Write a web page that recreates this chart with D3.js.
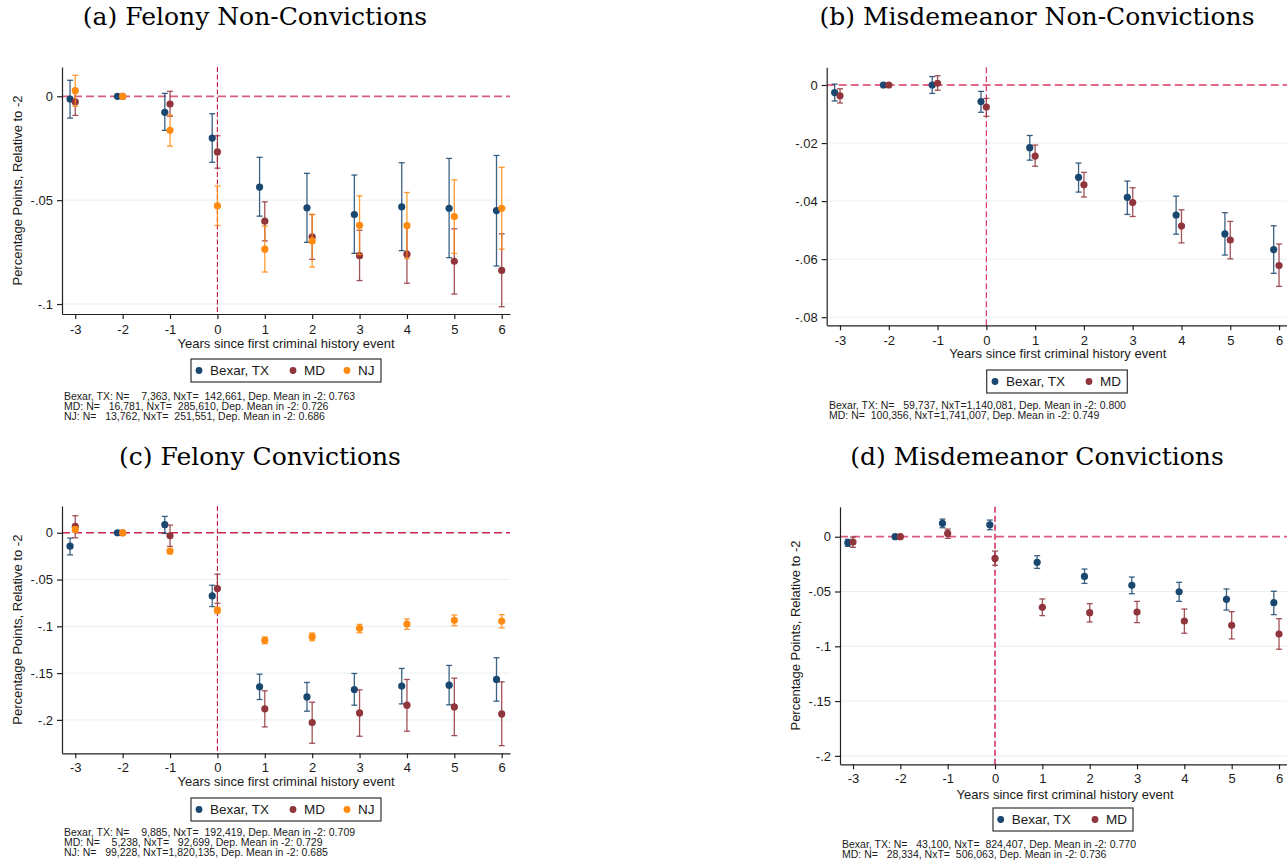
<!DOCTYPE html>
<html>
<head>
<meta charset="utf-8">
<script src="https://cdn.jsdelivr.net/npm/d3@7"></script>
<style>
  body { margin: 0; background: #fff; }
  svg text { font-family: "Liberation Sans", Arial, sans-serif; fill: #1a1a1a; }
  svg text.panel-title { font-family: "DejaVu Serif", "Liberation Serif", serif; fill: #000; }
</style>
</head>
<body>
<svg id="chart" width="1287" height="866"></svg>
<script>
// years relative to first criminal history event
var years = [-3, -2, -1, 0, 1, 2, 3, 4, 5, 6];

// (a) Felony non-convictions
var aBexarEst = [-0.0013, 0, -0.0077, -0.0201, -0.0437, -0.0537, -0.0569, -0.0532, -0.0539, -0.0550];
var aBexarLo  = [-0.0105, 0, -0.0164, -0.0318, -0.0577, -0.0703, -0.0756, -0.0743, -0.0777, -0.0817];
var aBexarHi  = [ 0.0077, 0,  0.0014, -0.0084, -0.0294, -0.0371, -0.0379, -0.0320, -0.0299, -0.0285];
var aMdEst    = [-0.0027, 0, -0.0037, -0.0268, -0.0601, -0.0677, -0.0767, -0.0760, -0.0794, -0.0838];
var aMdLo     = [-0.0092, 0, -0.0096, -0.0346, -0.0696, -0.0785, -0.0887, -0.0900, -0.0952, -0.1013];
var aMdHi     = [ 0.0035, 0,  0.0024, -0.0190, -0.0508, -0.0569, -0.0645, -0.0616, -0.0638, -0.0662];
var aNjEst    = [ 0.0027, 0, -0.0164, -0.0527, -0.0736, -0.0696, -0.0621, -0.0622, -0.0579, -0.0539];
var aNjLo     = [-0.0048, 0, -0.0240, -0.0622, -0.0846, -0.0822, -0.0762, -0.0781, -0.0756, -0.0736];
var aNjHi     = [ 0.0101, 0, -0.0090, -0.0432, -0.0625, -0.0569, -0.0479, -0.0463, -0.0402, -0.0342];
var aYTicks = [0, -0.05, -0.1];
var aYLabels = ["0", "-.05", "-.1"];
var aNotes = [
  "Bexar, TX: N=    7,363, NxT=  142,661, Dep. Mean in -2: 0.763",
  "MD: N=   16,781, NxT=  285,610, Dep. Mean in -2: 0.726",
  "NJ: N=   13,762, NxT=  251,551, Dep. Mean in -2: 0.686"
];

// (b) Misdemeanor non-convictions
var bBexarEst = [-0.0026, 0,  0.0000, -0.0057, -0.0216, -0.0318, -0.0387, -0.0448, -0.0513, -0.0567];
var bBexarLo  = [-0.0055, 0, -0.0029, -0.0094, -0.0259, -0.0369, -0.0446, -0.0514, -0.0586, -0.0649];
var bBexarHi  = [ 0.0003, 0,  0.0029, -0.0022, -0.0174, -0.0269, -0.0331, -0.0383, -0.0440, -0.0485];
var bMdEst    = [-0.0037, 0,  0.0006, -0.0076, -0.0245, -0.0344, -0.0405, -0.0486, -0.0534, -0.0622];
var bMdLo     = [-0.0062, 0, -0.0018, -0.0108, -0.0280, -0.0386, -0.0453, -0.0544, -0.0599, -0.0694];
var bMdHi     = [-0.0013, 0,  0.0032, -0.0046, -0.0207, -0.0301, -0.0354, -0.0430, -0.0470, -0.0548];
var bYTicks = [0, -0.02, -0.04, -0.06, -0.08];
var bYLabels = ["0", "-.02", "-.04", "-.06", "-.08"];
var bNotes = [
  "Bexar, TX: N=   59,737, NxT=1,140,081, Dep. Mean in -2: 0.800",
  "MD: N=  100,356, NxT=1,741,007, Dep. Mean in -2: 0.749"
];

// (c) Felony convictions
var cBexarEst = [-0.0143, 0,  0.0086, -0.0675, -0.1646, -0.1754, -0.1675, -0.1639, -0.1629, -0.1568];
var cBexarLo  = [-0.0236, 0, -0.0007, -0.0789, -0.1782, -0.1907, -0.1843, -0.1829, -0.1839, -0.1800];
var cBexarHi  = [-0.0057, 0,  0.0175, -0.0561, -0.1511, -0.1600, -0.1504, -0.1450, -0.1418, -0.1336];
var cMdEst    = [ 0.0068, 0, -0.0032, -0.0596, -0.1882, -0.2029, -0.1925, -0.1843, -0.1861, -0.1936];
var cMdLo     = [-0.0054, 0, -0.0146, -0.0754, -0.2075, -0.2250, -0.2175, -0.2121, -0.2168, -0.2275];
var cMdHi     = [ 0.0182, 0,  0.0082, -0.0443, -0.1689, -0.1811, -0.1679, -0.1568, -0.1554, -0.1593];
var cNjEst    = [ 0.0036, 0, -0.0196, -0.0829, -0.1150, -0.1111, -0.1021, -0.0975, -0.0936, -0.0943];
var cNjLo     = [ 0.0007, 0, -0.0225, -0.0861, -0.1186, -0.1154, -0.1068, -0.1032, -0.0993, -0.1018];
var cNjHi     = [ 0.0064, 0, -0.0171, -0.0796, -0.1114, -0.1071, -0.0979, -0.0921, -0.0879, -0.0875];
var cYTicks = [0, -0.05, -0.1, -0.15, -0.2];
var cYLabels = ["0", "-.05", "-.1", "-.15", "-.2"];
var cNotes = [
  "Bexar, TX: N=    9,885, NxT=  192,419, Dep. Mean in -2: 0.709",
  "MD: N=    5,238, NxT=   92,699, Dep. Mean in -2: 0.729",
  "NJ: N=   99,228, NxT=1,820,135, Dep. Mean in -2: 0.685"
];

// (d) Misdemeanor convictions
var dBexarEst = [-0.0055, 0,  0.0122,  0.0109, -0.0234, -0.0362, -0.0444, -0.0502, -0.0571, -0.0602];
var dBexarLo  = [-0.0088, 0,  0.0082,  0.0064, -0.0289, -0.0426, -0.0520, -0.0590, -0.0669, -0.0711];
var dBexarHi  = [-0.0024, 0,  0.0161,  0.0152, -0.0173, -0.0295, -0.0368, -0.0416, -0.0477, -0.0498];
var dMdEst    = [-0.0049, 0,  0.0030, -0.0198, -0.0644, -0.0693, -0.0687, -0.0769, -0.0809, -0.0888];
var dMdLo     = [-0.0097, 0, -0.0015, -0.0261, -0.0720, -0.0778, -0.0784, -0.0881, -0.0933, -0.1027];
var dMdHi     = [-0.0003, 0,  0.0070, -0.0131, -0.0568, -0.0611, -0.0590, -0.0660, -0.0684, -0.0748];
var dYTicks = [0, -0.05, -0.1, -0.15, -0.2];
var dYLabels = ["0", "-.05", "-.1", "-.15", "-.2"];
var dNotes = [
  "Bexar, TX: N=   43,100, NxT=  824,407, Dep. Mean in -2: 0.770",
  "MD: N=   28,334, NxT=  506,063, Dep. Mean in -2: 0.736"
];

var seriesNames = ["Bexar, TX", "MD", "NJ"];
var seriesColors = ["#1a476f", "#90353b", "#ff8a10"];
var seriesShift = [-0.11, 0, 0];   // Bexar is nudged left of the year tick

var svg = d3.select("#chart");

function drawPanel(p) {
  var g = svg.append("g");

  var x = d3.scaleLinear().domain(p.xDomain).range([p.left, p.right]);
  var y = d3.scaleLinear().domain(p.yDomain).range([p.top, p.bottom]);

  // faint gridlines
  g.selectAll(".grid")
    .data(p.yTicks.filter(function(d){ return d !== 0; }))
    .enter().append("line")
    .attr("x1", p.left).attr("x2", p.right)
    .attr("y1", function(d){ return y(d); })
    .attr("y2", function(d){ return y(d); })
    .attr("stroke", "#e7eff0")
    .attr("stroke-width", 1);

  // reference lines at 0
  g.append("line")
    .attr("x1", p.left).attr("x2", p.right)
    .attr("y1", y(0)).attr("y2", y(0))
    .attr("stroke", p.hColor)
    .attr("stroke-width", p.hWidth)
    .attr("stroke-dasharray", "8,4");
  g.append("line")
    .attr("x1", x(0)).attr("x2", x(0))
    .attr("y1", p.top).attr("y2", p.bottom)
    .attr("stroke", p.vColor)
    .attr("stroke-width", p.vWidth)
    .attr("stroke-dasharray", p.vDash);

  // axes
  var yAxis = d3.axisLeft(y)
    .tickValues(p.yTicks)
    .tickFormat(function(d, i){ return p.yLabels[i]; })
    .tickSize(5).tickSizeOuter(0).tickPadding(4);
  var xAxis = d3.axisBottom(x)
    .tickValues(years)
    .tickFormat(function(d){ return String(d); })
    .tickSize(5).tickSizeOuter(0).tickPadding(p.xPad);

  [g.append("g").attr("transform", "translate(" + p.left + ",0)").call(yAxis),
   g.append("g").attr("transform", "translate(0," + p.bottom + ")").call(xAxis)]
    .forEach(function(ax){
      ax.attr("font-family", null).attr("font-size", null);
      ax.selectAll("path, line").attr("stroke", "#222").attr("stroke-width", 1.2);
      ax.selectAll("text").style("font-size", "13px").attr("fill", "#1a1a1a");
    });

  // confidence intervals and point estimates
  p.series.forEach(function(s, k){
    var rows = years.map(function(yr, i){
      return {x: yr + seriesShift[k], est: s.est[i], lo: s.lo[i], hi: s.hi[i]};
    });
    var ci = rows.filter(function(d){ return d.hi !== d.lo; });
    var sg = g.append("g")
      .attr("stroke", seriesColors[k])
      .attr("stroke-opacity", 0.85)
      .attr("stroke-width", 1.3);
    sg.selectAll(".ci").data(ci).enter().append("line")
      .attr("x1", function(d){ return x(d.x); })
      .attr("x2", function(d){ return x(d.x); })
      .attr("y1", function(d){ return y(d.hi); })
      .attr("y2", function(d){ return y(d.lo); });
    ["hi", "lo"].forEach(function(key){
      sg.selectAll(".cap-" + key).data(ci).enter().append("line")
        .attr("x1", function(d){ return x(d.x) - 3; })
        .attr("x2", function(d){ return x(d.x) + 3; })
        .attr("y1", function(d){ return y(d[key]); })
        .attr("y2", function(d){ return y(d[key]); });
    });
    g.selectAll(".pt-" + k).data(rows).enter().append("circle")
      .attr("cx", function(d){ return x(d.x); })
      .attr("cy", function(d){ return y(d.est); })
      .attr("r", 3.6)
      .attr("fill", seriesColors[k]);
  });

  // titles
  g.append("text")
    .attr("class", "panel-title")
    .attr("x", p.titleX).attr("y", p.titleY)
    .attr("text-anchor", "middle")
    .style("font-size", "25px")
    .text(p.title);
  g.append("text")
    .attr("x", (p.left + p.right) / 2).attr("y", p.xTitleY)
    .attr("text-anchor", "middle")
    .style("font-size", "13px")
    .text("Years since first criminal history event");
  if (p.yTitle) {
    g.append("text")
      .attr("transform", "translate(" + p.yTitleX + "," + ((p.top + p.bottom) / 2) + ") rotate(-90)")
      .attr("text-anchor", "middle")
      .attr("dy", "0.35em")
      .style("font-size", "13px")
      .text("Percentage Points, Relative to -2");
  }

  // legend
  var lg = g.append("g").attr("transform", "translate(" + p.legX + "," + p.legY + ")");
  lg.append("rect")
    .attr("width", p.legW).attr("height", 23)
    .attr("fill", "#fff").attr("stroke", "#333").attr("stroke-width", 1.2);
  p.series.forEach(function(s, k){
    var ox = p.legItems[k];
    lg.append("circle").attr("cx", ox).attr("cy", 11.5).attr("r", 3.4).attr("fill", seriesColors[k]);
    lg.append("text").attr("x", ox + 11).attr("y", 16.2)
      .style("font-size", "13.5px")
      .text(seriesNames[k]);
  });

  // sample-size notes
  g.selectAll(".note").data(p.notes).enter().append("text")
    .attr("x", p.noteX)
    .attr("y", function(d, i){ return p.noteY + i * 10.2; })
    .attr("xml:space", "preserve")
    .style("white-space", "pre")
    .style("font-size", "10.5px")
    .text(function(d){ return d; });
}

drawPanel({
  title: "(a) Felony Non-Convictions", titleX: 255, titleY: 25,
  left: 62, right: 510, top: 67, bottom: 314,
  xDomain: [-3.28, 6.175], yDomain: [0.0141, -0.1048],
  yTicks: aYTicks, yLabels: aYLabels,
  hColor: "#d9607f", hWidth: 1.8, vColor: "#c2173f", vWidth: 1.1, vDash: "5,2.5",
  xPad: 6, xTitleY: 348, yTitle: true, yTitleX: 17,
  series: [
    {est: aBexarEst, lo: aBexarLo, hi: aBexarHi},
    {est: aMdEst, lo: aMdLo, hi: aMdHi},
    {est: aNjEst, lo: aNjLo, hi: aNjHi}
  ],
  legX: 191, legY: 359, legW: 190, legItems: [8, 102, 156],
  notes: aNotes, noteX: 64, noteY: 399.5
});

drawPanel({
  title: "(b) Misdemeanor Non-Convictions", titleX: 1037, titleY: 25,
  left: 826.7, right: 1288.8, top: 67.3, bottom: 325.3,
  xDomain: [-3.273, 6.2], yDomain: [0.0061, -0.0828],
  yTicks: bYTicks, yLabels: bYLabels,
  hColor: "#dc3a60", hWidth: 1.4, vColor: "#dc3a60", vWidth: 1.2, vDash: "6,3",
  xPad: 5, xTitleY: 358, yTitle: false,
  series: [
    {est: bBexarEst, lo: bBexarLo, hi: bBexarHi},
    {est: bMdEst, lo: bMdLo, hi: bMdHi}
  ],
  legX: 986.7, legY: 370, legW: 140.6, legItems: [8.3, 102.3],
  notes: bNotes, noteX: 829, noteY: 408.5
});

drawPanel({
  title: "(c) Felony Convictions", titleX: 260, titleY: 465,
  left: 62, right: 510, top: 506, bottom: 753.3,
  xDomain: [-3.28, 6.175], yDomain: [0.0286, -0.2357],
  yTicks: cYTicks, yLabels: cYLabels,
  hColor: "#c8284e", hWidth: 1.3, vColor: "#c2173f", vWidth: 1.1, vDash: "5,2.5",
  xPad: 4, xTitleY: 786, yTitle: true, yTitleX: 17,
  series: [
    {est: cBexarEst, lo: cBexarLo, hi: cBexarHi},
    {est: cMdEst, lo: cMdLo, hi: cMdHi},
    {est: cNjEst, lo: cNjLo, hi: cNjHi}
  ],
  legX: 191, legY: 798, legW: 190, legItems: [8, 102, 156],
  notes: cNotes, noteX: 64, noteY: 836
});

drawPanel({
  title: "(d) Misdemeanor Convictions", titleX: 1037, titleY: 465,
  left: 840, right: 1290, top: 506.7, bottom: 764.3,
  xDomain: [-3.275, 6.232], yDomain: [0.0274, -0.2077],
  yTicks: dYTicks, yLabels: dYLabels,
  hColor: "#dc5a7d", hWidth: 1.8, vColor: "#dc5a7d", vWidth: 2, vDash: "6,3",
  xPad: 4, xTitleY: 798.5, yTitle: true, yTitleX: 795,
  series: [
    {est: dBexarEst, lo: dBexarLo, hi: dBexarHi},
    {est: dMdEst, lo: dMdLo, hi: dMdHi}
  ],
  legX: 993, legY: 808, legW: 140, legItems: [7.7, 102],
  notes: dNotes, noteX: 842, noteY: 847.5
});
</script>
</body>
</html>
